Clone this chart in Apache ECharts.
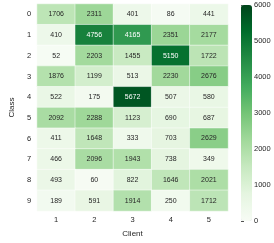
<!DOCTYPE html>
<html>
<head>
<meta charset="utf-8">
<script src="https://cdn.jsdelivr.net/npm/echarts@6/dist/echarts.min.js"></script>
<style>html,body{margin:0;padding:0;background:#fff}#c{width:274px;height:243px}</style>
</head>
<body>
<div id="c"></div>
<script>
const clients = ['1','2','3','4','5'];
const classes = ['0','1','2','3','4','5','6','7','8','9'];
const row0 = [1706, 2311, 401, 86, 441];
const row1 = [410, 4756, 4165, 2351, 2177];
const row2 = [52, 2203, 1455, 5150, 1722];
const row3 = [1876, 1199, 513, 2230, 2676];
const row4 = [522, 175, 5672, 507, 580];
const row5 = [2092, 2288, 1123, 690, 687];
const row6 = [411, 1648, 333, 703, 2629];
const row7 = [466, 2096, 1943, 738, 349];
const row8 = [493, 60, 822, 1646, 2021];
const row9 = [189, 591, 1914, 250, 1712];
const colorbarTicks = [0, 1000, 2000, 3000, 4000, 5000, 6000];

const rows = [row0,row1,row2,row3,row4,row5,row6,row7,row8,row9];
const greens = ['#f7fcf5','#e5f5e0','#c7e9c0','#a1d99b','#74c476','#41ab5d','#238b45','#006d2c','#00441b'];
const FONT = 'Liberation Sans, Arial, sans-serif';
const TXT = '#262626';
const data = [];
rows.forEach((r, yi) => r.forEach((v, xi) => {
  data.push({value: [xi, yi, v], label: {color: v > 3500 ? '#ffffff' : TXT}});
}));

const chart = echarts.init(document.getElementById('c'), null, {renderer: 'canvas'});
chart.setOption({
  animation: false,
  grid: [
    {left: 20, top: 4, width: 208, height: 217},
    {left: 241, top: 5, width: 11, height: 216}
  ],
  xAxis: [
    {type: 'category', gridIndex: 0, data: clients, name: 'Client', nameLocation: 'middle', nameGap: 19,
     nameTextStyle: {fontSize: 8, color: TXT, fontFamily: FONT},
     axisLine: {show: false}, axisTick: {show: false}, splitLine: {show: false},
     axisLabel: {fontSize: 7.5, color: TXT, fontFamily: FONT, margin: 5}},
    {type: 'value', gridIndex: 1, show: false}
  ],
  yAxis: [
    {type: 'category', gridIndex: 0, data: classes, inverse: true, name: 'Class', nameLocation: 'middle', nameGap: 14,
     nameRotate: 90, nameTextStyle: {fontSize: 8, color: TXT, fontFamily: FONT},
     axisLine: {show: false}, axisTick: {show: false}, splitLine: {show: false},
     axisLabel: {fontSize: 7.5, color: TXT, fontFamily: FONT, margin: 6}},
    {type: 'value', gridIndex: 1, position: 'right', min: colorbarTicks[0], max: colorbarTicks[colorbarTicks.length-1], interval: 1000,
     axisLine: {show: false}, splitLine: {show: false},
     axisTick: {show: true, length: 3, lineStyle: {color: TXT, width: 0.8}},
     axisLabel: {fontSize: 7.5, color: TXT, fontFamily: FONT, margin: 2, formatter: v => String(v)}}
  ],
  visualMap: {
    type: 'continuous', min: 0, max: 6000, dimension: 2, seriesIndex: 0,
    calculable: false, show: true, orient: 'vertical', left: 241, top: 5, padding: 0,
    itemWidth: 11, itemHeight: 216, hoverLink: false,
    inRange: {color: greens}
  },
  series: [{
    type: 'heatmap', xAxisIndex: 0, yAxisIndex: 0, data: data,
    itemStyle: {borderColor: '#ffffff', borderWidth: 0.5},
    label: {show: true, fontSize: 7, fontFamily: FONT, formatter: p => p.value[2]},
    emphasis: {disabled: true}
  }]
});
</script>
</body>
</html>
